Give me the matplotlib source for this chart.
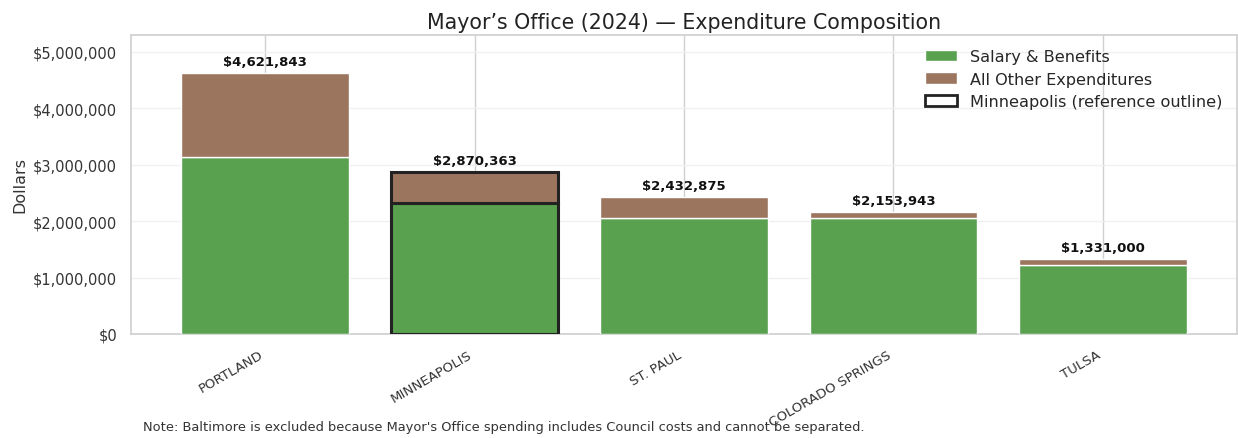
import matplotlib
matplotlib.use("Agg")
import matplotlib.pyplot as plt
import matplotlib.ticker as mticker
from matplotlib.patches import Patch
import seaborn as sns

# mayor's office spending, 2024
cities = ["PORTLAND", "MINNEAPOLIS", "ST. PAUL", "COLORADO SPRINGS", "TULSA"]
totals = [4621843, 2870363, 2432875, 2153943, 1331000]
salary = [3130000, 2330000, 2050000, 2060000, 1225000]
other = [t - s for t, s in zip(totals, salary)]

sns.set_theme(style="whitegrid")
plt.rcParams['font.family'] = ['DejaVu Sans']

green = "#59a14f"
brown = "#9c755f"

fig = plt.figure(figsize=(12.38, 4.39), dpi=100)
ax = fig.add_axes([131/1238, 0.237, (1237-131)/1238, 0.681])

x = list(range(len(cities)))
edges = ["#222222" if c == "MINNEAPOLIS" else "white" for c in cities]
lws = [2.2 if c == "MINNEAPOLIS" else 1.0 for c in cities]

ax.bar(x, salary, width=0.8, color=green, edgecolor=edges, linewidth=lws, zorder=3)
ax.bar(x, other, width=0.8, bottom=salary, color=brown, edgecolor=edges, linewidth=lws, zorder=3)

for i, t in enumerate(totals):
    ax.text(i, t + 90000, "${:,.0f}".format(t), ha="center", va="bottom",
            fontsize=9.5, fontweight="bold", color="#111111", zorder=4)

ax.set_ylim(0, 5300000)
ax.yaxis.set_major_formatter(mticker.FuncFormatter(lambda v, p: "${:,.0f}".format(v)))
ax.set_xticks(x)
ax.set_xticklabels(cities, rotation=30, ha="right", fontsize=9.6, color="#333333")
ax.tick_params(axis="y", labelsize=10.5, labelcolor="#333333", pad=4)
ax.tick_params(axis="x", pad=4)
ax.set_ylabel("Dollars", fontsize=11.5, color="#333333")
ax.set_title("Mayor\u2019s Office (2024) \u2014 Expenditure Composition", fontsize=14.8, color="#222222", pad=5)

ax.xaxis.grid(True, color="#d0d0d0", linewidth=1.0)
ax.yaxis.grid(True, color="#f0f0f0", linewidth=1.0)
for s in ax.spines.values():
    s.set_color("#d0d0d0")

handles = [
    Patch(facecolor=green, edgecolor="white", label="Salary & Benefits"),
    Patch(facecolor=brown, edgecolor="white", label="All Other Expenditures"),
    Patch(facecolor="white", edgecolor="#222222", linewidth=2, label="Minneapolis (reference outline)"),
]
leg = ax.legend(handles=handles, loc="upper right", fontsize=11.6, frameon=False,
                bbox_to_anchor=(1.0, 1.0), handlelength=2.0, labelspacing=0.45)

fig.text(143/1238, 1 - 428/439, "Note: Baltimore is excluded because Mayor's Office spending includes Council costs and cannot be separated.",
         fontsize=9.4, color="#333333", va="center")

fig.savefig("out.png", dpi=100)
